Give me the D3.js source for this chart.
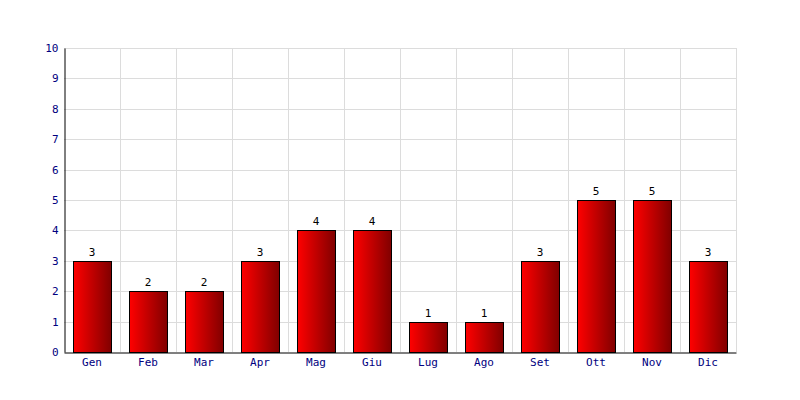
<!DOCTYPE html>
<html><head><meta charset="utf-8">
<script src="https://cdn.jsdelivr.net/npm/d3@7"></script>
<style>body{margin:0;background:#fff}</style>
</head><body>
<svg id="c" width="800" height="400"></svg>
<script>
const months = ["Gen","Feb","Mar","Apr","Mag","Giu","Lug","Ago","Set","Ott","Nov","Dic"];
const values = [3,2,2,3,4,4,1,1,3,5,5,3];
const yTicks = [0,1,2,3,4,5,6,7,8,9,10];

const svg = d3.select("#c");
const L=64, R=736, T=48, B=352;
const x = d3.scaleBand().domain(months).range([L,R]).paddingInner(0.32).paddingOuter(0.16);
const xg = d3.scaleBand().domain(months).range([L,R]);
const y = d3.scaleLinear().domain([0,10]).range([B,T]);
const font = "'DejaVu Sans Mono', monospace";

const defs = svg.append("defs");
const g = defs.append("linearGradient").attr("id","gr").attr("x1","0").attr("x2","1").attr("y1","0").attr("y2","0");
g.append("stop").attr("offset","0").attr("stop-color","#ff0000");
g.append("stop").attr("offset","1").attr("stop-color","#800000");

// grid
svg.append("g").selectAll("line").data(yTicks.slice(1)).join("line")
  .attr("x1",L).attr("x2",R).attr("y1",d=>Math.round(y(d))+0.5).attr("y2",d=>Math.round(y(d))+0.5)
  .attr("stroke","#dcdcdc").attr("stroke-width",1);
svg.append("g").selectAll("line").data(months).join("line")
  .attr("x1",d=>Math.round(xg(d)+xg.bandwidth())+0.5).attr("x2",d=>Math.round(xg(d)+xg.bandwidth())+0.5)
  .attr("y1",T).attr("y2",B).attr("stroke","#dcdcdc").attr("stroke-width",1);

// bars
svg.append("g").selectAll("rect").data(months).join("rect")
  .attr("x",d=>Math.round(x(d))+0.5).attr("width",Math.round(x.bandwidth()))
  .attr("y",(d,i)=>Math.round(y(values[i]))+0.5).attr("height",(d,i)=>Math.round(B-y(values[i])))
  .attr("fill","url(#gr)").attr("stroke","#000").attr("stroke-width",1);

// value labels
svg.append("g").selectAll("text").data(months).join("text")
  .attr("x",d=>x(d)+x.bandwidth()/2).attr("y",(d,i)=>y(values[i])-5)
  .attr("text-anchor","middle").attr("font-family",font).attr("font-size",11).attr("fill","#000")
  .text((d,i)=>values[i]);

// axes
const ya = d3.axisLeft(y).tickValues(yTicks).tickSize(0).tickPadding(6).tickFormat(d3.format("d"));
const yG = svg.append("g").attr("transform",`translate(${L+0.5},0)`).call(ya);
yG.select(".domain").attr("stroke","#000");
yG.selectAll("text").attr("font-family",font).attr("font-size",11).attr("fill","#000080");

const xa = d3.axisBottom(xg).tickSize(0).tickPadding(6);
const xG = svg.append("g").attr("transform",`translate(0,${B+0.5})`).call(xa);
xG.select(".domain").attr("stroke","#000");
xG.selectAll("text").attr("font-family",font).attr("font-size",11).attr("fill","#000080");
</script>
</body></html>
